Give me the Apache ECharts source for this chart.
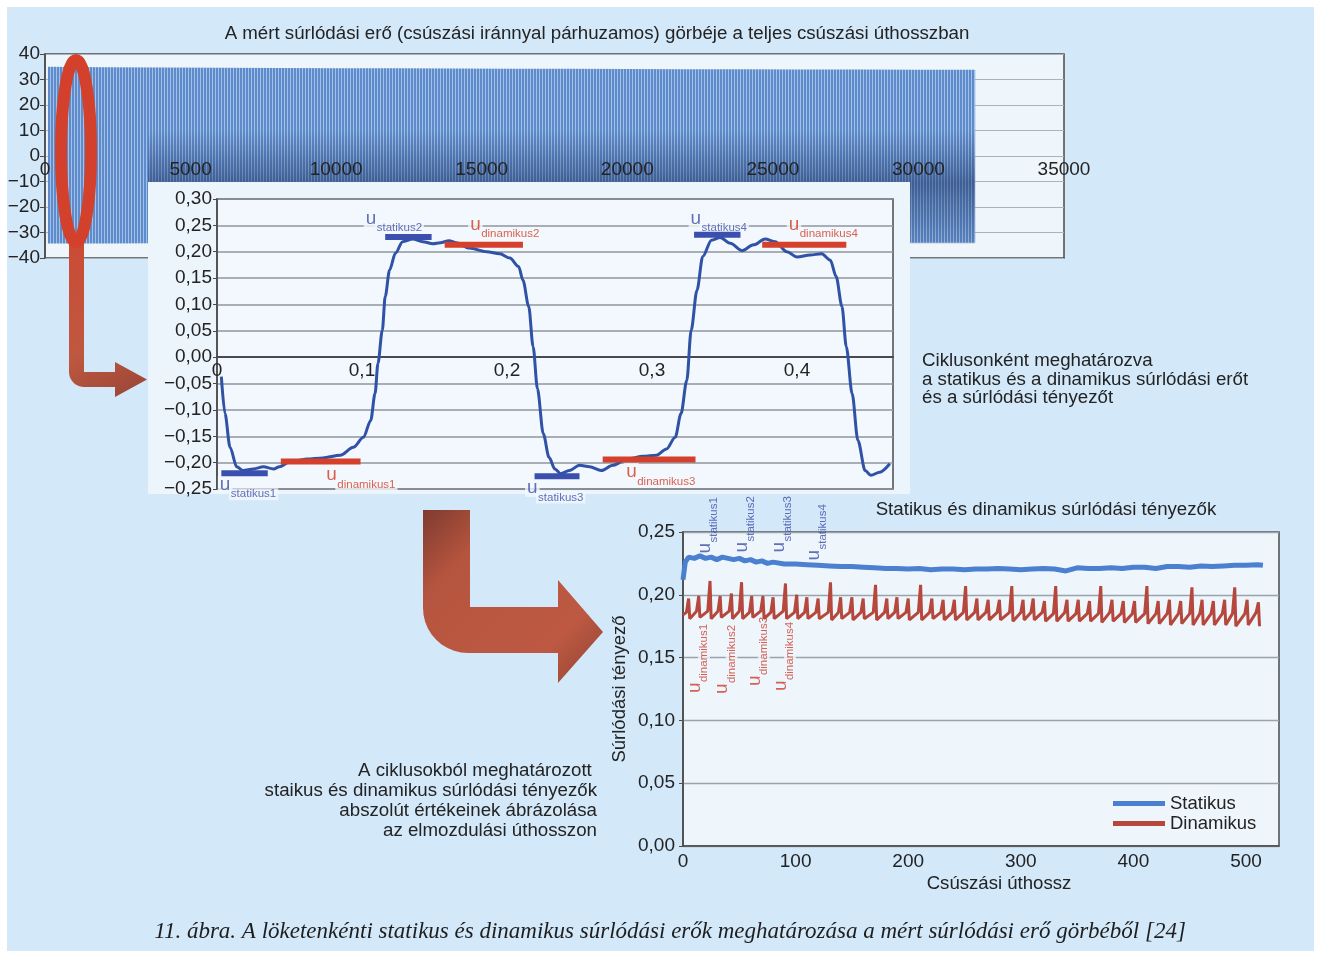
<!DOCTYPE html>
<html>
<head>
<meta charset="utf-8">
<title>Súrlódási erő és tényezők</title>
<script src="https://cdn.jsdelivr.net/npm/echarts@6/dist/echarts.min.js"></script>
<style>
  html, body { margin: 0; padding: 0; background: #fff; }
  #chart { width: 1321px; height: 958px; }
</style>
</head>
<body>
<div id="chart"></div>
<script>
// top chart: envelope of the dense measured force oscillation
const forceX = [100, 2000, 4000, 6000, 8000, 10000, 12000, 14000, 16000, 18000, 20000, 22000, 24000, 26000, 28000, 30000, 31950];
const forceTop = [35.0, 34.8, 34.7, 34.6, 34.5, 34.4, 34.4, 34.3, 34.2, 34.2, 34.1, 34.0, 34.0, 33.9, 33.9, 33.8, 33.8];
const forceBottom = [-34.3, -34.3, -34.2, -34.2, -34.2, -34.1, -34.1, -34.1, -34.1, -34.1, -34.0, -34.0, -34.0, -34.0, -34.0, -34.0, -34.0];

// inset: first two cycles of the friction coefficient
const cycX = [0.003, 0.0055, 0.009, 0.0136, 0.018, 0.025, 0.032, 0.039, 0.043, 0.050, 0.062, 0.073, 0.085, 0.094, 0.101, 0.106, 0.109, 0.111, 0.114, 0.116,
  0.119, 0.123, 0.128, 0.135, 0.142, 0.149, 0.154, 0.160, 0.165, 0.174, 0.186, 0.195, 0.202, 0.208, 0.211, 0.215, 0.218, 0.221, 0.225, 0.229,
  0.233, 0.237, 0.243, 0.250, 0.257, 0.265, 0.273, 0.283, 0.294, 0.303, 0.310, 0.316, 0.320, 0.324, 0.327, 0.331, 0.335, 0.341, 0.347, 0.354,
  0.362, 0.370, 0.378, 0.385, 0.393, 0.400, 0.409, 0.417, 0.423, 0.427, 0.431, 0.434, 0.438, 0.442, 0.447, 0.451, 0.457, 0.464];
const cycY = [-0.037, -0.107, -0.171, -0.208, -0.215, -0.212, -0.208, -0.212, -0.208, -0.199, -0.193, -0.191, -0.186, -0.171, -0.152, -0.120, -0.069, -0.012, 0.051, 0.115,
  0.165, 0.197, 0.219, 0.224, 0.219, 0.215, 0.217, 0.221, 0.217, 0.207, 0.200, 0.196, 0.188, 0.172, 0.146, 0.096, 0.020, -0.060, -0.145, -0.190,
  -0.212, -0.221, -0.215, -0.205, -0.208, -0.215, -0.205, -0.193, -0.188, -0.186, -0.174, -0.152, -0.107, -0.044, 0.051, 0.127, 0.191, 0.222, 0.227, 0.216,
  0.202, 0.213, 0.224, 0.219, 0.200, 0.190, 0.194, 0.196, 0.184, 0.153, 0.096, 0.020, -0.069, -0.158, -0.215, -0.224, -0.218, -0.202];

const statSegStart = [0.003, 0.116, 0.219, 0.329];
const statSegEnd = [0.035, 0.148, 0.250, 0.361];
const statSegVal = [-0.220, 0.228, -0.226, 0.232];
const dynSegStart = [0.044, 0.157, 0.266, 0.376];
const dynSegEnd = [0.099, 0.211, 0.330, 0.434];
const dynSegVal = [-0.198, 0.213, -0.194, 0.213];
const statNames = ['statikus1', 'statikus2', 'statikus3', 'statikus4'];
const dynNames = ['dinamikus1', 'dinamikus2', 'dinamikus3', 'dinamikus4'];

// bottom chart: coefficients along the sliding distance
const statX = [0, 2, 5, 10, 15, 20, 25, 30, 35, 40, 45, 50, 55, 60, 65, 70, 75, 80, 90, 100, 110, 120, 130, 140, 150, 160, 170, 180, 190, 200,
  210, 220, 230, 240, 250, 260, 270, 280, 290, 300, 310, 320, 330, 340, 350, 360, 370, 380, 390, 400, 410, 420, 430, 440, 450, 460, 470, 480, 490, 500, 510, 515];
const statY = [0.212, 0.226, 0.230, 0.229, 0.231, 0.229, 0.230, 0.228, 0.230, 0.229, 0.228, 0.229, 0.227, 0.228, 0.226, 0.227, 0.225, 0.226, 0.2245, 0.2245,
  0.224, 0.2235, 0.223, 0.2225, 0.2225, 0.222, 0.2215, 0.221, 0.221, 0.2205, 0.221, 0.220, 0.2205, 0.2205, 0.2200, 0.2205, 0.2205, 0.221, 0.2205, 0.220,
  0.2205, 0.221, 0.2205, 0.219, 0.2215, 0.2210, 0.221, 0.2215, 0.2210, 0.222, 0.222, 0.221, 0.2225, 0.2225, 0.2220, 0.223, 0.2225, 0.2230, 0.2235, 0.2235, 0.224, 0.2235];
const dynStart = 0.184;
const dynSpikeX = [5, 14, 24, 33, 43, 52, 61, 71, 80, 91, 101, 110, 120, 131, 140, 150, 160, 171, 181, 190, 200, 211, 221, 231, 241, 251,
  261, 271, 281, 292, 302, 311, 321, 331, 341, 351, 361, 371, 381, 391, 401, 412, 422, 432, 442, 452, 461, 471, 481, 490, 501, 511];
const dynSpikeTop = [0.197, 0.199, 0.211, 0.199, 0.201, 0.210, 0.199, 0.199, 0.198, 0.209, 0.200, 0.198, 0.197, 0.210, 0.198, 0.198, 0.197, 0.208, 0.197, 0.198,
  0.197, 0.208, 0.197, 0.196, 0.196, 0.207, 0.197, 0.196, 0.196, 0.207, 0.196, 0.197, 0.195, 0.207, 0.196, 0.196, 0.195, 0.207, 0.196, 0.195,
  0.195, 0.207, 0.195, 0.196, 0.195, 0.206, 0.196, 0.195, 0.196, 0.206, 0.196, 0.194];
const dynPre = [0.186, 0.187, 0.187, 0.187, 0.187, 0.187, 0.186, 0.187, 0.186, 0.187, 0.186, 0.186, 0.186, 0.186, 0.186, 0.186, 0.186, 0.186, 0.186, 0.186,
  0.186, 0.186, 0.186, 0.186, 0.186, 0.186, 0.186, 0.186, 0.186, 0.186, 0.186, 0.186, 0.186, 0.185, 0.186, 0.185, 0.185, 0.185, 0.186, 0.185,
  0.185, 0.185, 0.185, 0.185, 0.185, 0.185, 0.185, 0.185, 0.185, 0.185, 0.185, 0.186];
const dynLow = [0.181, 0.182, 0.181, 0.182, 0.181, 0.181, 0.182, 0.181, 0.181, 0.181, 0.181, 0.181, 0.181, 0.180, 0.181, 0.180, 0.181, 0.180, 0.181, 0.181,
  0.180, 0.180, 0.181, 0.180, 0.180, 0.180, 0.180, 0.180, 0.180, 0.179, 0.180, 0.180, 0.179, 0.179, 0.179, 0.179, 0.179, 0.178, 0.179, 0.178,
  0.178, 0.177, 0.177, 0.176, 0.177, 0.176, 0.176, 0.176, 0.176, 0.175, 0.176, 0.175];
// where the rotated u-labels of the bottom chart point to
const statLabelX = [18.6, 51.5, 84.4, 115.5];
const dynLabelX = [8.9, 33.3, 62.2, 85.3];

const FONT = '"Liberation Sans", Arial, sans-serif';
const TXT = '#232323';
const AXIS = '#4a4a4a';
const BLUE_LBL = '#3c4ea8';
const RED_LBL = '#d23a25';
const TEXT_FONT = '18.7px ' + FONT;

const huNum = (v, d) => {
  if (Math.abs(v) < 1e-9) v = 0;
  return (v < 0 ? '\u2212' : '') + Math.abs(v).toFixed(d).replace('.', ',');
};

const chart = echarts.init(document.getElementById('chart'));

// striped fill for the dense oscillation band
const stripe = document.createElement('canvas');
stripe.width = 3; stripe.height = 4;
const sctx = stripe.getContext('2d');
sctx.fillStyle = '#5e8bcb'; sctx.fillRect(0, 0, 3, 4);
sctx.fillStyle = '#a3c0e7'; sctx.fillRect(2, 0, 1, 4);

function bentArrow(a) {
  const pts = [[a.x0, a.top], [a.x0, a.y1 - a.r]];
  for (let k = 1; k <= 10; k++) {
    const t = Math.PI - (Math.PI / 2) * k / 10;
    pts.push([a.x0 + a.r + a.r * Math.cos(t), a.y1 - a.r + a.r * Math.sin(t)]);
  }
  pts.push([a.hx, a.y1], [a.hx, a.hy1], [a.tipX, a.tipY], [a.hx, a.hy0], [a.hx, a.y0], [a.x1, a.y0], [a.x1, a.top]);
  return pts;
}

const axisText = { fontSize: 19, color: TXT, fontFamily: FONT };
const gridLine = (c, w) => ({ show: true, lineStyle: { color: c, width: w } });

// "u" and its subscript are two labels on the same anchor point
const U_STYLE = { fontSize: 19, lineHeight: 18, fontFamily: FONT };
const SUB_STYLE = { fontSize: 11.5, lineHeight: 12, fontFamily: FONT };
function uLabels(value, off, name, color, rotated, bg) {
  const extra = bg ? { backgroundColor: bg, padding: [0, 2] } : {};
  let uPos, sPos;
  if (!rotated) {
    uPos = [off[0] - (bg ? 2 : 0), off[1]];
    sPos = [off[0] + 11 - (bg ? 2 : 0), off[1] + 12.6];
  } else {
    uPos = [off[0], off[1] + (bg ? 2 : 0)];
    sPos = [off[0] + 12.6, off[1] - 11 + (bg ? 2 : 0)];
  }
  return [
    { value: value, label: Object.assign({ show: true, position: uPos, rotate: rotated ? 90 : 0, formatter: 'u', color: color }, U_STYLE, extra) },
    { value: value, label: Object.assign({ show: true, position: sPos, rotate: rotated ? 90 : 0, formatter: name, color: color }, SUB_STYLE, extra) }
  ];
}

// inset segment series
const segSeries = [];
statSegStart.forEach((s, i) => {
  segSeries.push({
    type: 'line', xAxisIndex: 1, yAxisIndex: 1, z: 10, silent: true, symbol: 'none',
    data: [[s, statSegVal[i]], [statSegEnd[i], statSegVal[i]]],
    lineStyle: { color: '#3a4fae', width: 6 }
  });
  segSeries.push({
    type: 'line', xAxisIndex: 1, yAxisIndex: 1, z: 10, silent: true, symbol: 'none',
    data: [[dynSegStart[i], dynSegVal[i]], [dynSegEnd[i], dynSegVal[i]]],
    lineStyle: { color: '#d4402b', width: 6 }
  });
});

// label offsets (px) of the "u" glyph box, relative to the segment start points
const statOff = [[-1, 3], [-19, -27], [-7, 3], [-3, -25]];
const dynOff = [[46, 5], [26, -29], [24, 4], [27, -29]];
let insetLabels = [];
statSegStart.forEach((s, i) => {
  insetLabels = insetLabels.concat(uLabels([s, statSegVal[i]], statOff[i], statNames[i], BLUE_LBL, false, '#f2f8fd'));
  insetLabels = insetLabels.concat(uLabels([dynSegStart[i], dynSegVal[i]], dynOff[i], dynNames[i], RED_LBL, false, '#f2f8fd'));
});

// bottom chart rotated labels
const statRotOff = [[-8, 22], [-8, 21], [-8, 21], [-8, 29]];
const dynRotOff = [[-7.2, 36], [-7, 37], [-7.2, 29], [-7.2, 34]];
let bottomLabels = [];
statLabelX.forEach((x, i) => {
  bottomLabels = bottomLabels.concat(uLabels([x, 0.25], statRotOff[i], statNames[i], BLUE_LBL, true, null));
});
dynLabelX.forEach((x, i) => {
  bottomLabels = bottomLabels.concat(uLabels([x, 0.15], dynRotOff[i], dynNames[i], RED_LBL, true, '#eef6fc'));
});

const dynData = [[0, dynStart]];
dynSpikeX.forEach((x, i) => {
  dynData.push([x - 2, dynPre[i]], [x, dynSpikeTop[i]], [x + 1, dynLow[i]]);
});

const option = {
  backgroundColor: '#ffffff',
  animation: false,
  textStyle: { fontFamily: FONT },
  grid: [
    { left: 45, top: 54, width: 1019, height: 204, show: true, backgroundColor: '#eef6fc', borderColor: AXIS, borderWidth: 1.5, z: 0 },
    { left: 217, top: 199, width: 676, height: 290, show: true, backgroundColor: '#f2f8fd', borderColor: AXIS, borderWidth: 1.5, z: 6 },
    { left: 683, top: 532, width: 596, height: 314, show: true, backgroundColor: '#eef6fc', borderColor: AXIS, borderWidth: 1.5, z: 0 }
  ],
  xAxis: [
    // labels sit just under the zero line (offset from the bottom edge)
    { gridIndex: 0, type: 'value', min: 0, max: 35000, interval: 5000, z: 4, offset: -102,
      axisLine: { show: false, onZero: false }, axisTick: { show: false }, splitLine: { show: false },
      axisLabel: Object.assign({ margin: 4, formatter: v => String(v) }, axisText) },
    { gridIndex: 1, type: 'value', min: 0, max: 0.4662, interval: 0.1, z: 7, offset: -131.8,
      axisLine: { onZero: false, lineStyle: { color: AXIS, width: 2 } }, axisTick: { show: false }, splitLine: { show: false },
      axisLabel: Object.assign({ margin: 4, showMaxLabel: false, formatter: v => (v === 0 ? '0' : huNum(v, 1)) }, axisText) },
    { gridIndex: 2, type: 'value', min: 0, max: 529.3, interval: 100,
      axisLine: { lineStyle: { color: AXIS, width: 1.5 } }, axisTick: { show: false }, splitLine: { show: false },
      axisLabel: Object.assign({ margin: 6, showMaxLabel: false }, axisText),
      name: 'Csúszási úthossz', nameLocation: 'middle', nameGap: 28,
      nameTextStyle: { fontSize: 18.6, color: TXT, fontFamily: FONT, padding: [0, 0, 0, 36] } }
  ],
  yAxis: [
    { gridIndex: 0, type: 'value', min: -40, max: 40, interval: 10,
      axisLine: { show: true, lineStyle: { color: AXIS, width: 1.5 } },
      axisTick: { show: true, length: 5, lineStyle: { color: AXIS } },
      splitLine: gridLine('#a9b3bd', 1.2),
      axisLabel: Object.assign({ margin: 5, formatter: v => (v < 0 ? '\u2212' + Math.abs(v) : String(v)) }, axisText) },
    { gridIndex: 1, type: 'value', min: -0.25, max: 0.30, interval: 0.05, z: 7,
      axisLine: { show: true, lineStyle: { color: AXIS, width: 1.5 } },
      axisTick: { show: true, length: 4, lineStyle: { color: AXIS } },
      splitLine: gridLine('#8e969e', 1.5),
      axisLabel: Object.assign({ margin: 5, formatter: v => huNum(v, 2) }, axisText) },
    { gridIndex: 2, type: 'value', min: 0, max: 0.25, interval: 0.05,
      axisLine: { show: true, lineStyle: { color: AXIS, width: 1.5 } },
      axisTick: { show: true, length: 4, lineStyle: { color: AXIS } },
      splitLine: gridLine('#9aa3ac', 1.3),
      axisLabel: Object.assign({ margin: 8, formatter: v => huNum(v, 2) }, axisText),
      name: 'Súrlódási tényező', nameLocation: 'middle', nameGap: 54,
      nameTextStyle: { fontSize: 18.5, color: TXT, fontFamily: FONT } }
  ],
  legend: {
    left: 1108, top: 789, orient: 'vertical', itemWidth: 52, itemHeight: 5, itemGap: 1, icon: 'rect',
    data: ['Statikus', 'Dinamikus'],
    textStyle: { fontSize: 18.5, color: TXT, fontFamily: FONT, lineHeight: 19, padding: [0, 0, 0, 0] }
  },
  series: [
    { name: 'erő felső', type: 'line', xAxisIndex: 0, yAxisIndex: 0, z: 2, silent: true, symbol: 'none',
      data: forceX.map((x, i) => [x, forceTop[i]]),
      lineStyle: { width: 0, opacity: 0 }, areaStyle: { color: { image: stripe, repeat: 'repeat' }, opacity: 1 } },
    { name: 'erő alsó', type: 'line', xAxisIndex: 0, yAxisIndex: 0, z: 2, silent: true, symbol: 'none',
      data: forceX.map((x, i) => [x, forceBottom[i]]),
      lineStyle: { width: 0, opacity: 0 }, areaStyle: { color: { image: stripe, repeat: 'repeat' }, opacity: 1 } },
    { name: 'u-címkék', type: 'scatter', xAxisIndex: 1, yAxisIndex: 1, z: 8, silent: true, clip: false,
      symbolSize: 1, itemStyle: { color: 'rgba(0,0,0,0)' },
      data: insetLabels },
    { name: 'ciklus', type: 'line', xAxisIndex: 1, yAxisIndex: 1, z: 9, silent: true, symbol: 'none',
      smooth: 0.3, smoothMonotone: 'x',
      data: cycX.map((x, i) => [x, cycY[i]]),
      lineStyle: { color: '#2f51a6', width: 3 } },
    ...segSeries,
    { name: 'rot-címkék', type: 'scatter', xAxisIndex: 2, yAxisIndex: 2, z: 1, silent: true, clip: false,
      symbolSize: 1, itemStyle: { color: 'rgba(0,0,0,0)' },
      data: bottomLabels },
    { name: 'Statikus', type: 'line', xAxisIndex: 2, yAxisIndex: 2, z: 3, silent: true, symbol: 'none',
      data: statX.map((x, i) => [x, statY[i]]),
      itemStyle: { color: '#4a80cf' }, lineStyle: { color: '#4a80cf', width: 5 } },
    { name: 'Dinamikus', type: 'line', xAxisIndex: 2, yAxisIndex: 2, z: 2, silent: true, symbol: 'none',
      data: dynData,
      itemStyle: { color: '#b5473d' }, lineStyle: { color: '#b5473d', width: 3 } }
  ],
  graphic: { elements: [
    { type: 'rect', z: -10, silent: true, shape: { x: 7, y: 7, width: 1307, height: 944 }, style: { fill: '#d3e8f9' } },
    // darkening of the band just above the inset panel
    { type: 'rect', z: 3, silent: true, shape: { x: 148, y: 130, width: 827, height: 53 },
      style: { fill: new echarts.graphic.LinearGradient(0, 0, 0, 1, [{ offset: 0, color: 'rgba(20,40,85,0)' }, { offset: 1, color: 'rgba(20,40,85,0.45)' }]) } },
    { type: 'rect', z: 3, silent: true, shape: { x: 910, y: 183, width: 65, height: 61 },
      style: { fill: new echarts.graphic.LinearGradient(0, 0, 0, 1, [{ offset: 0, color: 'rgba(20,40,85,0.45)' }, { offset: 1, color: 'rgba(20,40,85,0.1)' }]) } },
    // inset panel
    { type: 'rect', z: 5, silent: true, shape: { x: 148, y: 182, width: 762, height: 312 }, style: { fill: '#edf5fc' } },
    // small bent arrow and the red ellipse
    { type: 'polygon', z: 11, silent: true,
      shape: { points: bentArrow({ x0: 69, x1: 84, top: 240, y0: 372, y1: 387, r: 15, hx: 115, hy0: 362, hy1: 397, tipX: 147, tipY: 379.5 }) },
      style: { fill: new echarts.graphic.LinearGradient(0, 0, 1, 1, [{ offset: 0, color: '#cc4a34' }, { offset: 0.6, color: '#bf5840' }, { offset: 1, color: '#984536' }]) } },
    { type: 'ellipse', z: 12, silent: true, shape: { cx: 76, cy: 151, rx: 15, ry: 91 },
      style: { fill: 'none', stroke: '#d3412c', lineWidth: 12 } },
    // big bent arrow
    { type: 'polygon', z: 11, silent: true,
      shape: { points: bentArrow({ x0: 423, x1: 470, top: 510, y0: 607, y1: 653, r: 45, hx: 558, hy0: 580, hy1: 683, tipX: 603, tipY: 632 }) },
      style: { fill: new echarts.graphic.LinearGradient(0, 0, 1, 1, [{ offset: 0, color: '#7f3b2f' }, { offset: 0.25, color: '#b6553f' }, { offset: 0.75, color: '#bd5942' }, { offset: 1, color: '#8f4334' }]) } },
    // texts
    { type: 'text', z: 20, x: 597, y: 34, silent: true,
      style: { text: 'A mért súrlódási erő (csúszási iránnyal párhuzamos) görbéje a teljes csúszási úthosszban',
        font: TEXT_FONT, fill: TXT, align: 'center', verticalAlign: 'middle', textAlign: 'center', textVerticalAlign: 'middle' } },
    { type: 'text', z: 20, x: 922, y: 352, silent: true,
      style: { text: 'Ciklusonként meghatározva\na statikus és a dinamikus súrlódási erőt\nés a súrlódási tényezőt',
        font: TEXT_FONT, fill: TXT, lineHeight: 18.5, align: 'left', verticalAlign: 'top', textAlign: 'left', textVerticalAlign: 'top' } },
    { type: 'text', z: 20, x: 597, y: 761, silent: true,
      style: { text: 'A ciklusokból meghatározott \nstaikus és dinamikus súrlódási tényezők\nabszolút értékeinek ábrázolása\naz elmozdulási úthosszon',
        font: TEXT_FONT, fill: TXT, lineHeight: 20, align: 'right', verticalAlign: 'top', textAlign: 'right', textVerticalAlign: 'top' } },
    { type: 'text', z: 20, x: 1046, y: 510, silent: true,
      style: { text: 'Statikus és dinamikus súrlódási tényezők',
        font: TEXT_FONT, fill: TXT, align: 'center', verticalAlign: 'middle', textAlign: 'center', textVerticalAlign: 'middle' } },
    { type: 'text', z: 20, x: 670, y: 932, silent: true,
      style: { text: '11. ábra. A löketenkénti statikus és dinamikus súrlódási erők meghatározása a mért súrlódási erő görbéből [24]',
        font: 'italic 23px "Liberation Serif", serif', fill: '#1e1e1e', align: 'center', verticalAlign: 'middle', textAlign: 'center', textVerticalAlign: 'middle' } }
  ] }
};

chart.setOption(option);
window.addEventListener('resize', () => chart.resize());
</script>
</body>
</html>
